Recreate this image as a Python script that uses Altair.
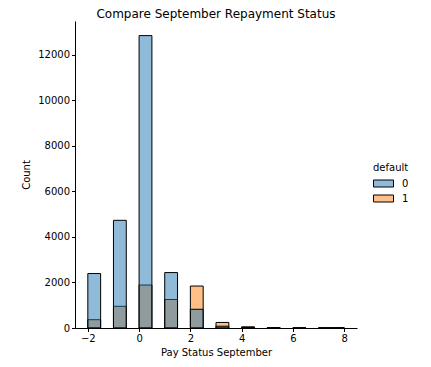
import altair as alt
import pandas as pd

pay_status = [-2, -1, 0, 1, 2, 3, 4, 5, 6, 7, 8]
count_default0 = [2394, 4732, 12849, 2436, 823, 78, 24, 13, 5, 2, 8]
count_default1 = [365, 954, 1888, 1252, 1844, 244, 52, 13, 6, 7, 11]
x_ticks = [-2, 0, 2, 4, 6, 8]
y_ticks = [0, 2000, 4000, 6000, 8000, 10000, 12000]

BIN_W = 0.5
rows = []
# default=1 first so that default=0 is drawn on top (as seaborn does)
for lvl, counts in (("1", count_default1), ("0", count_default0)):
    for v, c in zip(pay_status, counts):
        start = min(v, 8 - BIN_W)
        rows.append({"start": start, "end": start + BIN_W, "count": c, "default": lvl})
df = pd.DataFrame(rows)

chart = alt.Chart(df).mark_rect(
    fillOpacity=1, stroke="black", strokeWidth=1, strokeOpacity=1
).encode(
    x=alt.X("start:Q", scale=alt.Scale(domain=[-2.5, 8.5], nice=False, zero=False),
            axis=alt.Axis(values=x_ticks, title="Pay Status September", grid=False,
                          tickSize=3.5, labelPadding=2, titlePadding=4, zindex=1)),
    x2="end:Q",
    y=alt.Y("count:Q", scale=alt.Scale(domain=[0, 13491], nice=False),
            axis=alt.Axis(values=y_ticks, title="Count", grid=False, format="d",
                          tickSize=3.5, labelPadding=2, titlePadding=6, zindex=1)),
    y2=alt.datum(0),
    fill=alt.Fill("default:N",
                  scale=alt.Scale(domain=["0", "1"],
                                  range=["rgba(31,119,180,0.5)", "rgba(255,127,14,0.5)"]),
                  legend=alt.Legend(orient="none", legendX=298, legendY=142,
                                    title="default",
                                    symbolType="M-1,-0.35H1V0.35H-1Z",
                                    symbolSize=400, symbolStrokeColor="black",
                                    symbolStrokeWidth=1, symbolOpacity=1,
                                    clipHeight=13, rowPadding=2,
                                    labelFontSize=10, titleFontSize=10,
                                    titleFontWeight="normal", labelOffset=8,
                                    titlePadding=4)),
    order=alt.Order("default:N", sort="descending"),
).properties(
    width=282, height=307,
    title=alt.TitleParams("Compare September Repayment Status", fontSize=12,
                          fontWeight="normal", anchor="middle", offset=0,
                          font="DejaVu Sans", color="black"),
    autosize=alt.AutoSizeParams(type="none"),
    padding={"left": 67, "top": 13, "right": 66, "bottom": 31},
).configure_view(stroke=None).configure_axis(
    labelFont="DejaVu Sans", titleFont="DejaVu Sans", labelFontSize=10,
    titleFontSize=10, titleFontWeight="normal", labelColor="black",
    titleColor="black", domainColor="black", tickColor="black", domainWidth=1,
).configure_legend(
    labelFont="DejaVu Sans", titleFont="DejaVu Sans", labelColor="black",
    titleColor="black"
)

chart.save("out.html", embed_options={"renderer": "svg", "actions": False})
